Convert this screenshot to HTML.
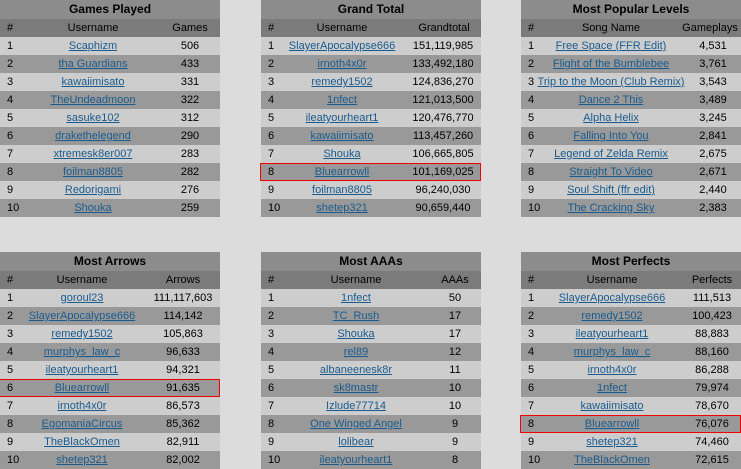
<!DOCTYPE html><html><head><style>
body{margin:0;background:#dcdcdc;width:741px;height:468px;overflow:hidden;position:relative;font-family:"Liberation Sans",Arial,sans-serif;font-size:11px;color:#000}
.t{position:absolute;width:220px}
.r{position:absolute;left:0;width:220px;height:18px;line-height:18px}
.ti{background:#8c8c8c;font-weight:bold;font-size:12px;text-align:center;height:19px;line-height:19px}
.h{background:#7b7b7b}
.o{background:#cdcdcd}.e{background:#999}
.c{position:absolute;white-space:nowrap;transform:translateX(-50%)}
.n{position:absolute;left:7px}
a{color:#1a5c8f;text-decoration:underline}
.hl{position:absolute;border:1px solid #e00;box-sizing:border-box;height:18px}
</style></head><body>
<div id="root"></div>
<script>
const T=[
[0,0,"Games Played","Username","Games",93,190,190,[["Scaphizm","506"],["tha Guardians","433"],["kawaiimisato","331"],["TheUndeadmoon","322"],["sasuke102","312"],["drakethelegend","290"],["xtremesk8er007","283"],["foilman8805","282"],["Redorigami","276"],["Shouka","259"]],0],
[261,0,"Grand Total","Username","Grandtotal",81,183,182,[["SlayerApocalypse666","151,119,985"],["irnoth4x0r","133,492,180"],["remedy1502","124,836,270"],["1nfect","121,013,500"],["ileatyourheart1","120,476,770"],["kawaiimisato","113,457,260"],["Shouka","106,665,805"],["Bluearrowll","101,169,025"],["foilman8805","96,240,030"],["shetep321","90,659,440"]],8],
[521,0,"Most Popular Levels","Song Name","Gameplays",90,189,192,[["Free Space (FFR Edit)","4,531"],["Flight of the Bumblebee","3,761"],["Trip to the Moon (Club Remix)","3,543"],["Dance 2 This","3,489"],["Alpha Helix","3,245"],["Falling Into You","2,841"],["Legend of Zelda Remix","2,675"],["Straight To Video","2,671"],["Soul Shift (ffr edit)","2,440"],["The Cracking Sky","2,383"]],0],
[0,252,"Most Arrows","Username","Arrows",82,183,183,[["goroul23","111,117,603"],["SlayerApocalypse666","114,142"],["remedy1502","105,863"],["murphys_law_c","96,633"],["ileatyourheart1","94,321"],["Bluearrowll","91,635"],["irnoth4x0r","86,573"],["EgomaniaCircus","85,362"],["TheBlackOmen","82,911"],["shetep321","82,002"]],6],
[261,252,"Most AAAs","Username","AAAs",95,194,194,[["1nfect","50"],["TC_Rush","17"],["Shouka","17"],["rel89","12"],["albaneenesk8r","11"],["sk8mastr","10"],["Izlude77714","10"],["One Winged Angel","9"],["lolibear","9"],["ileatyourheart1","8"]],0],
[521,252,"Most Perfects","Username","Perfects",91,191,191,[["SlayerApocalypse666","111,513"],["remedy1502","100,423"],["ileatyourheart1","88,883"],["murphys_law_c","88,160"],["irnoth4x0r","86,288"],["1nfect","79,974"],["kawaiimisato","78,670"],["Bluearrowll","76,076"],["shetep321","74,460"],["TheBlackOmen","72,615"]],8]];
let h="";
for(const [x,y,ti,u,v,uc,hc,vc,rows,hl] of T){
h+=`<div class="t" style="left:${x}px;top:${y}px"><div class="r ti" style="top:0">${ti}</div>`;
h+=`<div class="r h" style="top:19px"><span class="n">#</span><span class="c" style="left:${uc}px">${u}</span><span class="c" style="left:${hc}px">${v}</span></div>`;
rows.forEach((r,i)=>{const top=37+i*18;
h+=`<div class="r ${i%2?'e':'o'}" style="top:${top}px"><span class="n">${i+1}</span><span class="c" style="left:${uc}px"><a>${r[0]}</a></span><span class="c" style="left:${vc}px">${r[1]}</span></div>`;});
if(hl)h+=`<div class="hl" style="left:-1px;width:221px;top:${37+(hl-1)*18}px"></div>`;
h+=`</div>`;}
document.getElementById("root").innerHTML=h;
</script></body></html>
